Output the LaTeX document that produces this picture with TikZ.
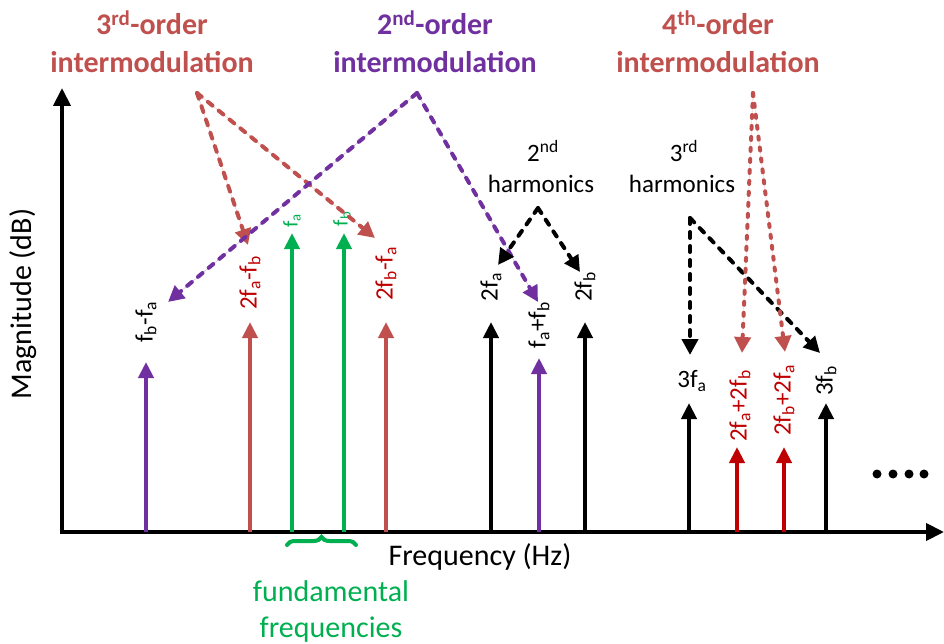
\documentclass[tikz,border=0pt]{standalone}
\usepackage{fontspec}
\setmainfont{Carlito}
\usetikzlibrary{arrows.meta,decorations.pathreplacing}
\definecolor{imred}{HTML}{C0504D}
\definecolor{impurple}{HTML}{7030A0}
\definecolor{imgreen}{HTML}{00B050}
\definecolor{imdark}{HTML}{C00000}
\begin{document}
\begin{tikzpicture}[x=1pt,y=-1pt,
  axis/.style={line width=4pt,-{Triangle[width=17pt,length=18pt]}},
  spike/.style={line width=4pt,-{Triangle[width=15pt,length=16pt]}},
  dasharr/.style={line width=4pt,dash pattern=on 6pt off 8pt,line cap=round,-{Triangle[width=16pt,length=16pt]}},
  dotarr/.style={line width=4pt,dash pattern=on 3pt off 8pt,line cap=round,-{Triangle[width=16pt,length=16pt]}},
  title/.style={font=\fontsize{30}{32}\selectfont\bfseries,anchor=base,inner sep=0pt},
  lab/.style={font=\fontsize{25}{28}\selectfont,inner sep=0pt},
  big/.style={font=\fontsize{30}{32}\selectfont,inner sep=0pt},
  rlab/.style={lab,rotate=90},
  flab/.style={font=\fontsize{21}{24}\selectfont,inner sep=0pt,rotate=90,text=imgreen},
  dot/.style={circle,fill=black,inner sep=0pt,minimum size=9pt}]
\useasboundingbox (0,0) rectangle (944,644);

% axes
\coordinate (O) at (62,532);
\coordinate (ytop) at (62,88);
\coordinate (xend) at (944,532);
\draw[axis] (O) -- (ytop);
\draw[axis] ([xshift=-2pt]O) -- (xend);
\node[big,rotate=90] (ylab) at (23,304) {Magnitude (dB)};
\node[big,anchor=base] (xlab) at (480,565) {Frequency (Hz)};

% spikes
\foreach \n/\x/\t/\c in {s1/146/362/impurple, s2/250/322/imred, s3/292/233/imgreen, s4/344/233/imgreen,
  s5/386/322/imred, s6/491/322/black, s7/539/358/impurple, s8/585/322/black,
  s9/689/403/black, s10/737/447/imdark, s11/784/447/imdark, s12/826/403/black}{
  \coordinate (\n b) at (\x,532);
  \coordinate (\n t) at (\x,\t);
  \draw[spike,draw=\c,fill=\c] (\n b) -- (\n t);
}

% spike labels
\node[rlab] (l1) at (146,322) {f\textsubscript{b}-f\textsubscript{a}};
\node[rlab,text=imdark] (l2) at (250,283) {2f\textsubscript{a}-f\textsubscript{b}};
\node[flab] (l3) at (292,221) {f\textsubscript{a}};
\node[flab] (l4) at (342,219) {f\textsubscript{b}};
\node[rlab,text=imdark] (l5) at (386,274) {2f\textsubscript{b}-f\textsubscript{a}};
\node[rlab] (l6) at (491,287) {2f\textsubscript{a}};
\node[rlab] (l7) at (539,325) {f\textsubscript{a}+f\textsubscript{b}};
\node[rlab] (l8) at (585,287) {2f\textsubscript{b}};
\node[lab] (l9) at (692,381) {3f\textsubscript{a}};
\node[rlab,text=imdark] (l10) at (740,406) {2f\textsubscript{a}+2f\textsubscript{b}};
\node[rlab,text=imdark] (l11) at (784,400) {2f\textsubscript{b}+2f\textsubscript{a}};
\node[rlab] (l12) at (826,381) {3f\textsubscript{b}};

% titles
\node[title,text=imred] (t3a) at (152,35) {3\textsuperscript{rd}-order};
\node[title,text=imred] (t3b) at (152,73) {intermodulation};
\node[title,text=impurple] (t2a) at (435,35) {2\textsuperscript{nd}-order};
\node[title,text=impurple] (t2b) at (435,73) {intermodulation};
\node[title,text=imred] (t4a) at (718,35) {4\textsuperscript{th}-order};
\node[title,text=imred] (t4b) at (718,73) {intermodulation};
\node[lab,anchor=base] (h2a) at (543,162) {2\textsuperscript{nd}};
\node[lab,anchor=base] (h2b) at (541,193) {harmonics};
\node[lab,anchor=base] (h3a) at (684,162) {3\textsuperscript{rd}};
\node[lab,anchor=base] (h3b) at (682,193) {harmonics};

% sources and targets
\coordinate (src3) at (197,93);
\coordinate (src2) at (417,93);
\coordinate (srch2) at (538,208);
\coordinate (srch3) at (690,218);
\coordinate (src4) at (753,93);
\coordinate (a1) at (248,245);
\coordinate (a2) at (375,238);
\coordinate (b1) at (168,302);
\coordinate (b2) at (538,302);
\coordinate (c1) at (498,265);
\coordinate (c2) at (580,272);
\coordinate (d1) at (690,355);
\coordinate (d2) at (820,353);
\coordinate (e1) at (742,353);
\coordinate (e2) at (785,352);

\draw[dasharr,draw=imred,fill=imred] (src3) -- (a1);
\draw[dasharr,draw=imred,fill=imred] (src3) -- (a2);
\draw[dasharr,draw=impurple,fill=impurple] (src2) -- (b1);
\draw[dasharr,draw=impurple,fill=impurple] (src2) -- (b2);
\draw[dasharr] (srch2) -- (c1);
\draw[dasharr] (srch2) -- (c2);
\draw[dasharr] (srch3) -- (d1);
\draw[dasharr] (srch3) -- (d2);
\draw[dotarr,draw=imred,fill=imred] (src4) -- (e1);
\draw[dotarr,draw=imred,fill=imred] (src4) -- (e2);

% brace and fundamental label
\coordinate (brL) at (287,545);
\coordinate (brR) at (356,545);
\draw[imgreen,line width=4pt,line cap=round,decorate,decoration={brace,mirror,amplitude=8pt}] (brR) -- (brL);
\node[big,text=imgreen,anchor=base] (fund1) at (331,601) {fundamental};
\node[big,text=imgreen,anchor=base] (fund2) at (331,637) {frequencies};

% dots
\node[dot] (dt1) at (877,474) {};
\node[dot] (dt2) at (893,474) {};
\node[dot] (dt3) at (909,474) {};
\node[dot] (dt4) at (924,474) {};
\end{tikzpicture}
\end{document}
